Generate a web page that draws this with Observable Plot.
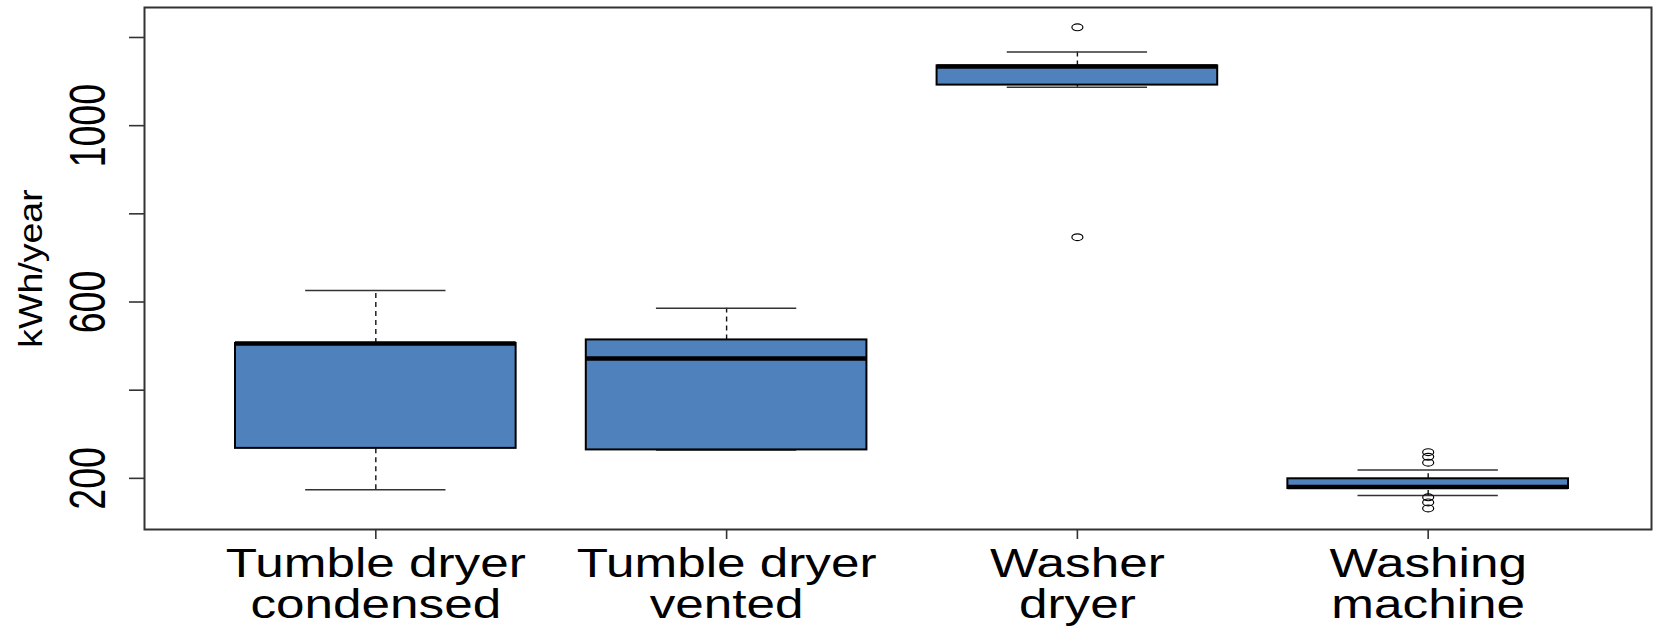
<!DOCTYPE html>
<html>
<head>
<meta charset="utf-8">
<script src="https://cdn.jsdelivr.net/npm/d3@7"></script>
<script src="https://cdn.jsdelivr.net/npm/@observablehq/plot@0.6"></script>
<style>
  html, body { margin: 0; padding: 0; background: #fff; }
  svg { display: block; }
</style>
</head>
<body>
<div id="chart"></div>
<script>
// ---- data ----
const categories = ["Tumble dryer\ncondensed", "Tumble dryer\nvented", "Washer\ndryer", "Washing\nmachine"];
const whiskerLow  = [174, 264.5, 1087, 161];
const q1          = [268, 264.5, 1092, 177];
const median      = [506, 472, 1134, 180.5];
const q3          = [506, 514, 1135.5, 199];
const whiskerHigh = [626, 586, 1167, 219];
const outlierCategory = ["Washer\ndryer", "Washer\ndryer",
  "Washing\nmachine", "Washing\nmachine", "Washing\nmachine",
  "Washing\nmachine", "Washing\nmachine", "Washing\nmachine"];
const outlierValue = [1223, 747, 259.5, 249, 235.6, 156.9, 145.5, 131.9];
const yTicks = [200, 400, 600, 800, 1000, 1200];
const yTickLabels = [200, 600, 1000];
const yTitle = "kWh/year";

// ---- tables built from the arrays ----
const boxes = categories.map((c, i) => ({
  category: c, lo: whiskerLow[i], q1: q1[i], med: median[i], q3: q3[i], hi: whiskerHigh[i]
}));
const outliers = outlierValue.map((v, i) => ({category: outlierCategory[i], value: v}));

const fill = "#4F81BD";
const bw = 280.6;

// open ellipse symbol (the reference picture is horizontally stretched)
const ellipse = {
  draw(ctx) {
    const rx = 5.5, ry = 3.4, k = 0.5523;
    ctx.moveTo(rx, 0);
    ctx.bezierCurveTo(rx, k * ry, k * rx, ry, 0, ry);
    ctx.bezierCurveTo(-k * rx, ry, -rx, k * ry, -rx, 0);
    ctx.bezierCurveTo(-rx, -k * ry, -k * rx, -ry, 0, -ry);
    ctx.bezierCurveTo(k * rx, -ry, rx, -k * ry, rx, 0);
    ctx.closePath();
  }
};

const chart = Plot.plot({
  width: 1654,
  height: 629,
  marginLeft: 144,
  marginRight: 3,
  marginTop: 7,
  marginBottom: 100,
  style: {fontFamily: "'Liberation Sans', Arial, sans-serif", background: "#fff", color: "#000"},
  x: {type: "band", domain: categories, range: [235, 1568], paddingInner: 0.2, paddingOuter: 0, round: false, label: null},
  y: {domain: [84, 1268], label: null},
  marks: [
    // whiskers (dashed)
    Plot.ruleX(boxes, {x: "category", y1: "q3", y2: "hi", stroke: "#111", strokeWidth: 1.4, strokeDasharray: "5,4"}),
    Plot.ruleX(boxes, {x: "category", y1: "lo", y2: "q1", stroke: "#111", strokeWidth: 1.4, strokeDasharray: "5,4"}),
    // whisker caps
    Plot.tickY(boxes, {x: "category", y: "hi", stroke: "#333", strokeWidth: 1.6, insetLeft: bw / 4, insetRight: bw / 4}),
    Plot.tickY(boxes, {x: "category", y: "lo", stroke: "#333", strokeWidth: 1.6, insetLeft: bw / 4, insetRight: bw / 4}),
    // boxes
    Plot.barY(boxes, {x: "category", y1: "q1", y2: "q3", fill: fill, stroke: "#000", strokeWidth: 2}),
    // medians
    Plot.tickY(boxes, {x: "category", y: "med", stroke: "#000", strokeWidth: 4.5}),
    // outliers
    Plot.dot(outliers, {x: "category", y: "value", symbol: ellipse, fill: "none", stroke: "#000", strokeWidth: 1.2}),
    // frame and axes
    Plot.frame({stroke: "#333", strokeWidth: 2}),
    Plot.axisY({ticks: yTicks, tickSize: 15, tickFormat: () => "", stroke: "#333", strokeWidth: 1.6, label: null}),
    Plot.axisX({tickSize: 10, tickFormat: () => "", stroke: "#333", strokeWidth: 1.6, label: null}),
    // y tick labels
    Plot.text(yTickLabels, {y: d => d, text: d => String(d), frameAnchor: "left", dx: -55, rotate: -90,
      fontSize: 37.5, textAnchor: "middle", lineAnchor: "middle", fill: "#000", ariaDescription: "ylabels"}),
    // y title
    Plot.text([yTitle], {text: d => d, frameAnchor: "left", dx: -113, rotate: -90,
      fontSize: 37.5, textAnchor: "middle", lineAnchor: "middle", fill: "#000", ariaDescription: "ytitle"}),
    // x category labels
    Plot.text(categories, {x: d => d, text: d => d, frameAnchor: "bottom", dy: 18.6, lineAnchor: "top",
      fontSize: 41, lineHeight: 0.99, textAnchor: "middle", fill: "#000", ariaDescription: "xlabels"})
  ]
});

document.getElementById("chart").appendChild(chart);

// The reference image is stretched horizontally; mimic it on the texts.
function stretch(key, sx, sy) {
  chart.querySelectorAll(`g[aria-description="${key}"] text`).forEach(el => {
    const t = el.getAttribute("transform") || "";
    el.setAttribute("transform", `${t} scale(${sx},${sy})`);
  });
}
stretch("xlabels", 1.25, 1);
stretch("ylabels", 1, 1.33);
stretch("ytitle", 1, 0.9);
</script>
</body>
</html>
